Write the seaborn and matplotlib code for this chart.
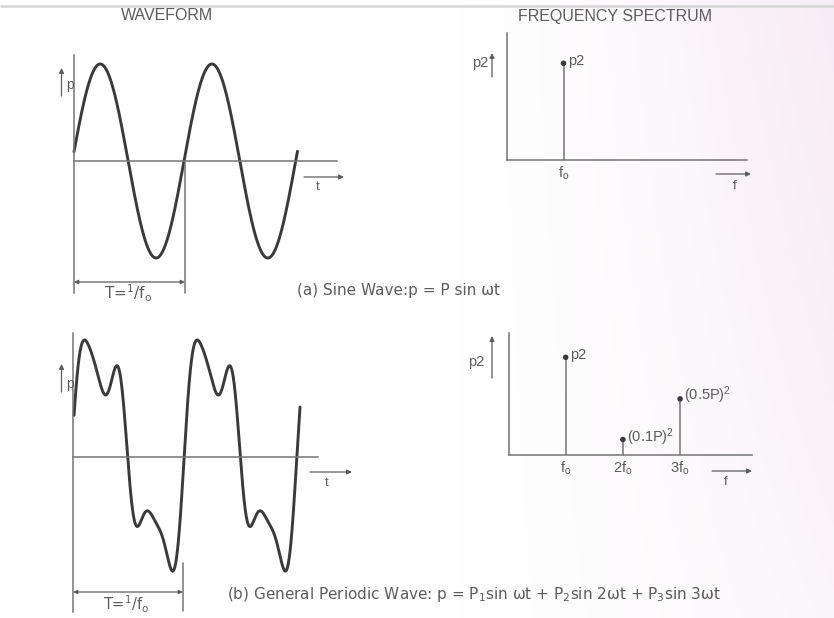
import numpy as np
import pandas as pd
import matplotlib
matplotlib.use("Agg")
import matplotlib.pyplot as plt
import seaborn as sns

# ---------------- data ----------------
# (a) pure tone: amplitude P and the stretch of time drawn, in periods T
sine_amplitude = 1.0
sine_span = [0.015, 2.016]

# (b) general periodic wave: Fourier coefficients of the drawn curve, units of P
harmonic_order = [1, 2, 3, 4, 5]
harmonic_sin = [1.012, 0.200, 0.396, -0.021, 0.086]
harmonic_cos = [-0.004, -0.020, 0.020, -0.029, 0.045]
wave_offset = 0.045
periodic_span = [0.02, 2.025]

# spectra: harmonic number and mean-square value (units of P^2)
spectrum_a_harmonic = [1]
spectrum_a_power = [1.0]
spectrum_a_labels = ["p2"]
spectrum_a_ticks = ["f$_o$"]

spectrum_b_harmonic = [1, 2, 3]
spectrum_b_power = [1.0, 0.01, 0.25]
spectrum_b_labels = ["p2", "(0.1P)$^2$", "(0.5P)$^2$"]
spectrum_b_ticks = ["f$_o$", "2f$_o$", "3f$_o$"]

# ---------------- style ----------------
sns.set_theme(style="white")
plt.rcParams["font.family"] = ["Liberation Sans", "DejaVu Sans"]
plt.rcParams["mathtext.default"] = "regular"
WIDE = ["DejaVu Sans"]

INK = "#3a3a3a"      # curves and dots
RULE = "#747474"     # axis lines and stems
TXT = "#5c5c5c"      # lettering

W, H = 834, 618
fig = plt.figure(figsize=(W / 100, H / 100), dpi=100)
fig.patch.set_facecolor("white")


def place(x0, y0, x1, y1, z=1):
    """Axes occupying the pixel box (x0, y0)-(x1, y1), origin top-left."""
    ax = fig.add_axes([x0 / W, 1 - y1 / H, (x1 - x0) / W, (y1 - y0) / H])
    ax.set_zorder(z)
    ax.set_facecolor("none")
    return ax


# faint tint of the printed page, warmer toward the right edge
bg = place(0, 0, W, H, z=-5)
xx = np.linspace(0, 1, 400)
yy = np.linspace(0, 1, 300)[:, None]
tint = np.clip((xx - 0.55) / 0.45, 0, 1) ** 1.4 * (1.0 - 0.5 * yy)
page = np.ones((300, 400, 3))
pink = np.array([0.965, 0.925, 0.960])
page = page * (1 - tint[..., None]) + pink * tint[..., None]
bg.imshow(page, extent=[0, W, H, 0], aspect="auto", interpolation="bilinear")
bg.set_xlim(0, W)
bg.set_ylim(H, 0)
bg.axis("off")


def wave_axes(box, t0_px, period_px, zero_px, unit_px, axis_px, axis_top, axis_bot, zero_end):
    x0, y0, x1, y1 = box
    ax = place(x0, y0, x1, y1, z=2)
    tx = lambda px: (px - t0_px) / period_px
    py = lambda pix: (zero_px - pix) / unit_px
    ax.set_xlim(tx(x0), tx(x1))
    ax.set_ylim(py(y1), py(y0))
    for s in ("top", "right"):
        ax.spines[s].set_visible(False)
    ax.spines["left"].set_position(("data", tx(axis_px)))
    ax.spines["left"].set_bounds(py(axis_bot), py(axis_top))
    ax.spines["bottom"].set_position(("data", 0.0))
    ax.spines["bottom"].set_bounds(tx(axis_px), tx(zero_end))
    for s in ("left", "bottom"):
        ax.spines[s].set_color(RULE)
        ax.spines[s].set_linewidth(1.1)
    ax.set_xticks([])
    ax.set_yticks([])
    return ax


# ---- (a) sine wave ----
ax_a = wave_axes((56, 45, 350, 300), 72.3, 111.7, 161.0, 97.0, 74, 55, 293, 337)
t_a = np.linspace(sine_span[0], sine_span[1], 800)
df_a = pd.DataFrame({"t": t_a, "p": sine_amplitude * np.sin(2 * np.pi * t_a)})
sns.lineplot(data=df_a, x="t", y="p", ax=ax_a, color=INK, lw=2.1, sort=False)
ax_a.set_xlabel("")
ax_a.set_ylabel("")

# ---- (b) general periodic wave ----
ax_b = wave_axes((56, 320, 350, 616), 71.8, 112.7, 456.7, 100.0, 73, 333, 612, 318)
t_b = np.linspace(periodic_span[0], periodic_span[1], 1200)
p_b = np.full_like(t_b, wave_offset)
for k, a, b in zip(harmonic_order, harmonic_sin, harmonic_cos):
    p_b += a * np.sin(2 * np.pi * k * t_b) + b * np.cos(2 * np.pi * k * t_b)
df_b = pd.DataFrame({"t": t_b, "p": p_b})
sns.lineplot(data=df_b, x="t", y="p", ax=ax_b, color=INK, lw=2.1, sort=False)
ax_b.set_xlabel("")
ax_b.set_ylabel("")


# ---- spectra ----
def power_fwd(v):
    return np.power(np.clip(v, 0, None), 0.4)


def power_inv(v):
    return np.power(np.clip(v, 0, None), 2.5)


def spectrum_axes(box, f0_px, step_px, unit_px, harm, power, labels, ticks, offsets):
    x0, y0, x1, y1 = box
    ax = place(x0, y0, x1, y1, z=2)
    ax.set_yscale("function", functions=(power_fwd, power_inv))
    ax.set_xlim((x0 - f0_px) / step_px, (x1 - f0_px) / step_px)
    ax.set_ylim(0, ((y1 - y0) / unit_px) ** 2.5)
    ax.vlines(harm, 0, power, color=RULE, lw=1.1, zorder=2)
    sns.scatterplot(x=harm, y=power, ax=ax, s=16, color=INK,
                    edgecolor="none", zorder=3, legend=False)
    for h, v, lab, off in zip(harm, power, labels, offsets):
        ax.annotate(lab, (h, v), xytext=off, textcoords="offset points",
                    ha="left", va="center", fontsize=10.5, color=TXT)
    ax.set_xticks(harm, ticks)
    ax.set_yticks([])
    ax.minorticks_off()
    ax.tick_params(axis="x", length=0, pad=3, labelsize=10.5, labelcolor=TXT)
    for s in ("top", "right"):
        ax.spines[s].set_visible(False)
    for s in ("left", "bottom"):
        ax.spines[s].set_color(RULE)
        ax.spines[s].set_linewidth(1.1)
    ax.set_xlabel("")
    ax.set_ylabel("")
    return ax


spectrum_axes((507, 33, 747, 160), 507.0, 56.5, 96.7,
              spectrum_a_harmonic, spectrum_a_power, spectrum_a_labels,
              spectrum_a_ticks, [(3, 1.5)])
spectrum_axes((509, 333, 752, 455), 508.5, 57.2, 97.7,
              spectrum_b_harmonic, spectrum_b_power, spectrum_b_labels,
              spectrum_b_ticks, [(3, 1.5), (3, 1.5), (3, 2.5)])

# ---------------- lettering and arrows (pixel coordinates) ----------------
ov = place(0, 0, W, H, z=4)
ov.set_xlim(0, W)
ov.set_ylim(H, 0)
ov.axis("off")

ov.plot([0, W], [6, 6], color="#d6d6d6", lw=1.8, solid_capstyle="butt")

ov.text(167, 16, "WAVEFORM", ha="center", va="center", fontsize=11.5, color=TXT)
ov.text(615, 16, "FREQUENCY SPECTRUM", ha="center", va="center", fontsize=11.5, color=TXT)


def arrow(x0, y0, x1, y1, style="-|>", lw=0.9, ms=7):
    ov.annotate("", xy=(x1, y1), xytext=(x0, y0),
                arrowprops=dict(arrowstyle=style, lw=lw, color=TXT,
                                mutation_scale=ms, shrinkA=0, shrinkB=0))


# amplitude labels on the waveforms
for y_arrow, y_text in ((96, 85), (392, 384)):
    arrow(61.5, y_arrow, 61.5, y_arrow - 28)
    ov.text(66, y_text, "p", ha="left", va="center", fontsize=10, color=TXT)

# time arrows
arrow(304, 177, 344, 177)
ov.text(318, 187, "t", ha="center", va="center", fontsize=9.5, color=TXT)
arrow(310, 472, 352, 472)
ov.text(327, 483, "t", ha="center", va="center", fontsize=9.5, color=TXT)

# period markers
ov.plot([185, 185], [161, 293], color=RULE, lw=1.1)
arrow(74, 282, 185, 282, style="<|-|>", ms=6)
ov.text(128, 293, "T=$^1$/f$_o$", ha="center", va="center", fontsize=11,
        color=TXT, family=WIDE)

ov.plot([183, 183], [563, 611], color=RULE, lw=1.1)
arrow(73, 592, 183, 592, style="<|-|>", ms=6)
ov.text(126, 604, "T=$^1$/f$_o$", ha="center", va="center", fontsize=10.5,
        color=TXT, family=WIDE)

# spectrum axis labels
ov.text(480, 63, "p2", ha="center", va="center", fontsize=10.5, color=TXT)
arrow(492, 77, 492, 53)
ov.text(476, 362, "p2", ha="center", va="center", fontsize=10.5, color=TXT)
arrow(492, 378, 492, 336)

arrow(716, 174, 751, 174)
ov.text(735, 186, "f", ha="center", va="center", fontsize=9.5, color=TXT)
arrow(712, 471, 752, 471)
ov.text(726, 482, "f", ha="center", va="center", fontsize=9.5, color=TXT)

# captions
ov.text(297, 291, "(a) Sine Wave:p = P sin ωt", ha="left", va="center",
        fontsize=11, color=TXT, family=WIDE)
ov.text(227, 595,
        "(b) General Periodic Wave: p = P$_1$sin ωt + P$_2$sin 2ωt + P$_3$sin 3ωt",
        ha="left", va="center", fontsize=11, color=TXT, family=WIDE)

fig.savefig("out.png", dpi=100, facecolor="white")
